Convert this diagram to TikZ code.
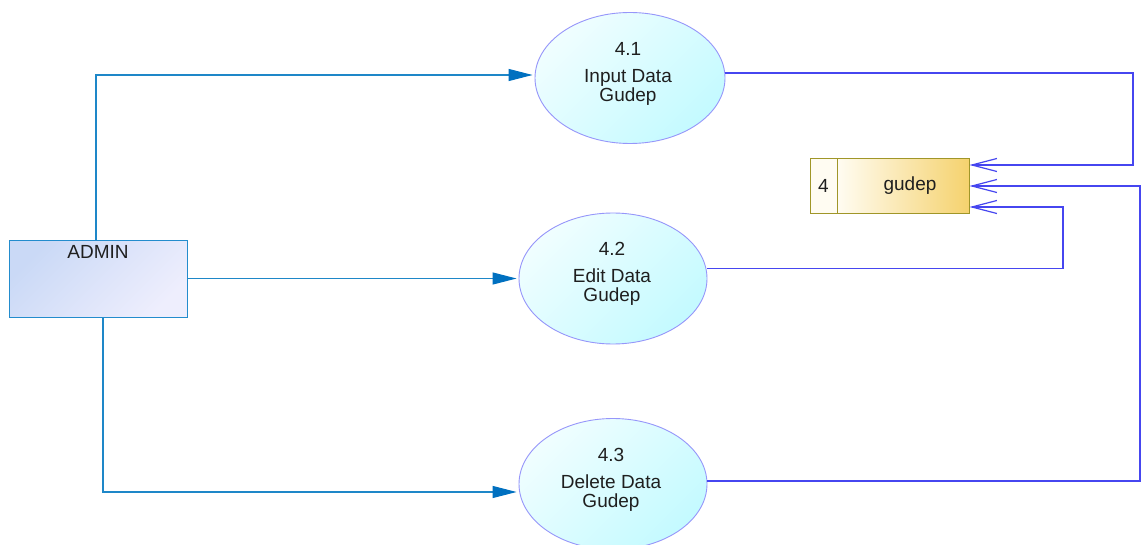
\documentclass[tikz,border=0pt]{standalone}
\usepackage{fontspec}
\setmainfont{Liberation Sans}
\usetikzlibrary{shapes.geometric,arrows.meta,calc}

\definecolor{linkA}{RGB}{30,135,200}
\definecolor{tipA}{RGB}{0,112,192}
\definecolor{linkB}{RGB}{70,70,240}
\definecolor{procEdge}{RGB}{150,150,250}
\definecolor{procLight}{RGB}{240,254,255}
\definecolor{procDeep}{RGB}{196,250,255}
\definecolor{entEdge}{RGB}{35,140,205}
\definecolor{entLight}{RGB}{202,217,246}
\definecolor{entDeep}{RGB}{238,238,253}
\definecolor{storeEdge}{RGB}{160,150,40}
\definecolor{storeLight}{RGB}{255,252,242}
\definecolor{storeDeep}{RGB}{245,210,110}

\tikzset{
  txt/.style={font=\fontsize{19}{19}\selectfont, text=black!88, inner sep=0pt},
  process/.style={ellipse, draw=procEdge, line width=0.9pt,
    top color=procLight, bottom color=procDeep, shading angle=45,
    inner sep=0pt, minimum width=#1, minimum height=131pt},
  ptext/.style={txt, align=center},
  entity/.style={rectangle, draw=entEdge, line width=1pt,
    top color=entLight, bottom color=entDeep, shading angle=45,
    inner sep=0pt, minimum width=178pt, minimum height=77pt},
  storeid/.style={rectangle, draw=storeEdge, line width=1pt, fill=storeLight,
    inner sep=0pt, minimum width=27pt, minimum height=55pt},
  storebody/.style={rectangle, draw=storeEdge, line width=1pt,
    left color=storeLight, right color=storeDeep,
    inner sep=0pt, minimum width=132pt, minimum height=55pt},
  inflow/.style={draw=linkA, line width=1.1pt,
    -{Triangle[length=24pt,width=12pt,color=tipA,fill=tipA]}, shorten >=2pt},
  outflow/.style={draw=linkB, line width=1.2pt,
    -{Straight Barb[length=25pt,width=13pt,line width=1.2pt]}},
}

\begin{document}
\begin{tikzpicture}[x=1pt,y=-1pt]
  \useasboundingbox (0,0) rectangle (1146,545);
  \clip (0,0) rectangle (1146,545);
  \fill[white] (0,0) rectangle (1146,545);

  % external entity
  \node[entity] (admin) at (98,279.5) {};
  \node[txt] (adminlbl) at (98,252) {ADMIN};

  % processes
  \node[process=190pt] (p1) at (630,78) {};
  \node[ptext] (t1) at (628,73.5) {4.1\\[8pt]Input Data\\Gudep};
  \node[process=188pt] (p2) at (613,278.5) {};
  \node[ptext] (t2) at (612,274) {4.2\\[8pt]Edit Data\\Gudep};
  \node[process=188pt] (p3) at (613,484) {};
  \node[ptext] (t3) at (611,480) {4.3\\[8pt]Delete Data\\Gudep};

  % data store
  \node[storeid] (sid) at (823.5,186) {};
  \node[storebody] (store) at (903,186) {};
  \node[txt] (sidlbl) at (sid) {4};
  \node[txt] (storelbl) at (910,186) {gudep};

  % flows from the entity into the processes
  \draw[inflow] ([xshift=-2pt]admin.north) |- ($(p1.west)+(0,-3)$);
  \draw[inflow] (admin.east |- p2.west) -- (p2.west);
  \draw[inflow] ([xshift=5pt]admin.south) |- ($(p3.west)+(0,8)$);

  % flows from the processes into the store
  \coordinate (a1) at ($(p1.east)+(0,-5)$);
  \coordinate (a2) at ($(p2.east)+(0,-10)$);
  \coordinate (a3) at ($(p3.east)+(0,-3)$);
  \coordinate (r1) at (1133,0);
  \coordinate (r2) at (1063,0);
  \coordinate (r3) at (1140,0);
  \coordinate (s1) at ($(store.east)+(0,-21)$);
  \coordinate (s2) at ($(store.east)+(0,21)$);
  \coordinate (s3) at (store.east);
  \draw[outflow] (a1) -- (a1 -| r1) |- (s1);
  \draw[outflow] (a2) -- (a2 -| r2) |- (s2);
  \draw[outflow] (a3) -- (a3 -| r3) |- (s3);
\end{tikzpicture}
\end{document}
